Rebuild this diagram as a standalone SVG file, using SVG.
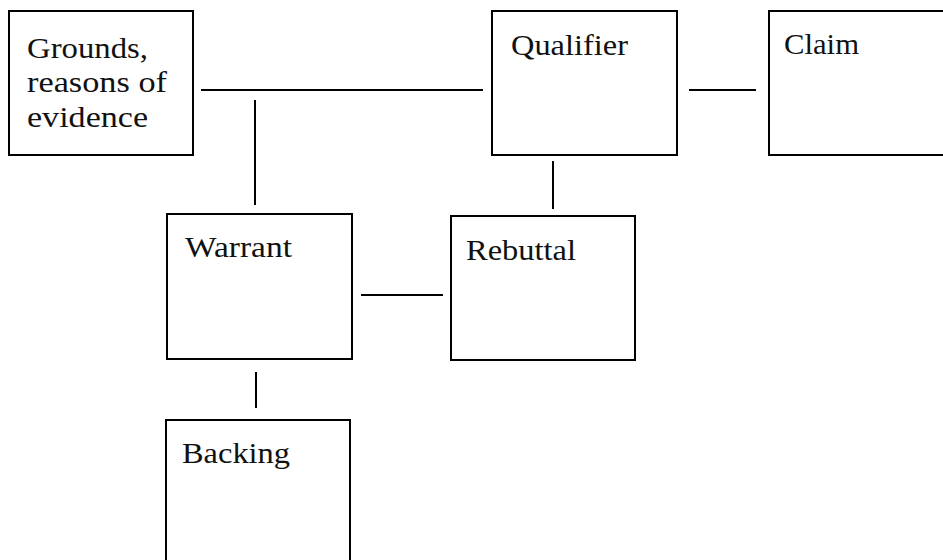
<svg xmlns="http://www.w3.org/2000/svg" width="943" height="560" viewBox="0 0 943 560">
<style>
.box{fill:#fff;stroke:#000;stroke-width:2}
.lbl{font-family:"Liberation Serif","Times New Roman",serif;font-size:29px;fill:#111}
.conn line{stroke:#000;stroke-width:2}
</style>
<rect width="943" height="560" fill="#fff"/>
<g id="grounds">
<rect class="box" x="9" y="11" width="184" height="144"/>
<text class="lbl" x="27" y="57.5" textLength="121" lengthAdjust="spacingAndGlyphs">Grounds,</text>
<text class="lbl" x="27" y="92" textLength="140" lengthAdjust="spacingAndGlyphs">reasons of</text>
<text class="lbl" x="27" y="127" textLength="121" lengthAdjust="spacingAndGlyphs">evidence</text>
</g>
<g id="qualifier">
<rect class="box" x="492" y="11" width="185" height="144"/>
<text class="lbl" x="511" y="55" textLength="117" lengthAdjust="spacingAndGlyphs">Qualifier</text>
</g>
<g id="claim">
<rect class="box" x="769" y="11" width="185" height="144"/>
<text class="lbl" x="784" y="54" textLength="75" lengthAdjust="spacingAndGlyphs">Claim</text>
</g>
<g id="warrant">
<rect class="box" x="167" y="214" width="185" height="145"/>
<text class="lbl" x="185" y="257" textLength="107" lengthAdjust="spacingAndGlyphs">Warrant</text>
</g>
<g id="rebuttal">
<rect class="box" x="451" y="216" width="184" height="144"/>
<text class="lbl" x="466" y="260" textLength="110" lengthAdjust="spacingAndGlyphs">Rebuttal</text>
</g>
<g id="backing">
<rect class="box" x="166" y="420" width="184" height="160"/>
<text class="lbl" x="182" y="463" textLength="108" lengthAdjust="spacingAndGlyphs">Backing</text>
</g>
<g class="conn" id="connectors">
<line x1="201" y1="90" x2="483" y2="90"/>
<line x1="255" y1="100" x2="255" y2="205"/>
<line x1="689" y1="90" x2="756" y2="90"/>
<line x1="553" y1="161" x2="553" y2="209"/>
<line x1="361" y1="295" x2="443" y2="295"/>
<line x1="256" y1="372" x2="256" y2="408"/>
</g>
</svg>
